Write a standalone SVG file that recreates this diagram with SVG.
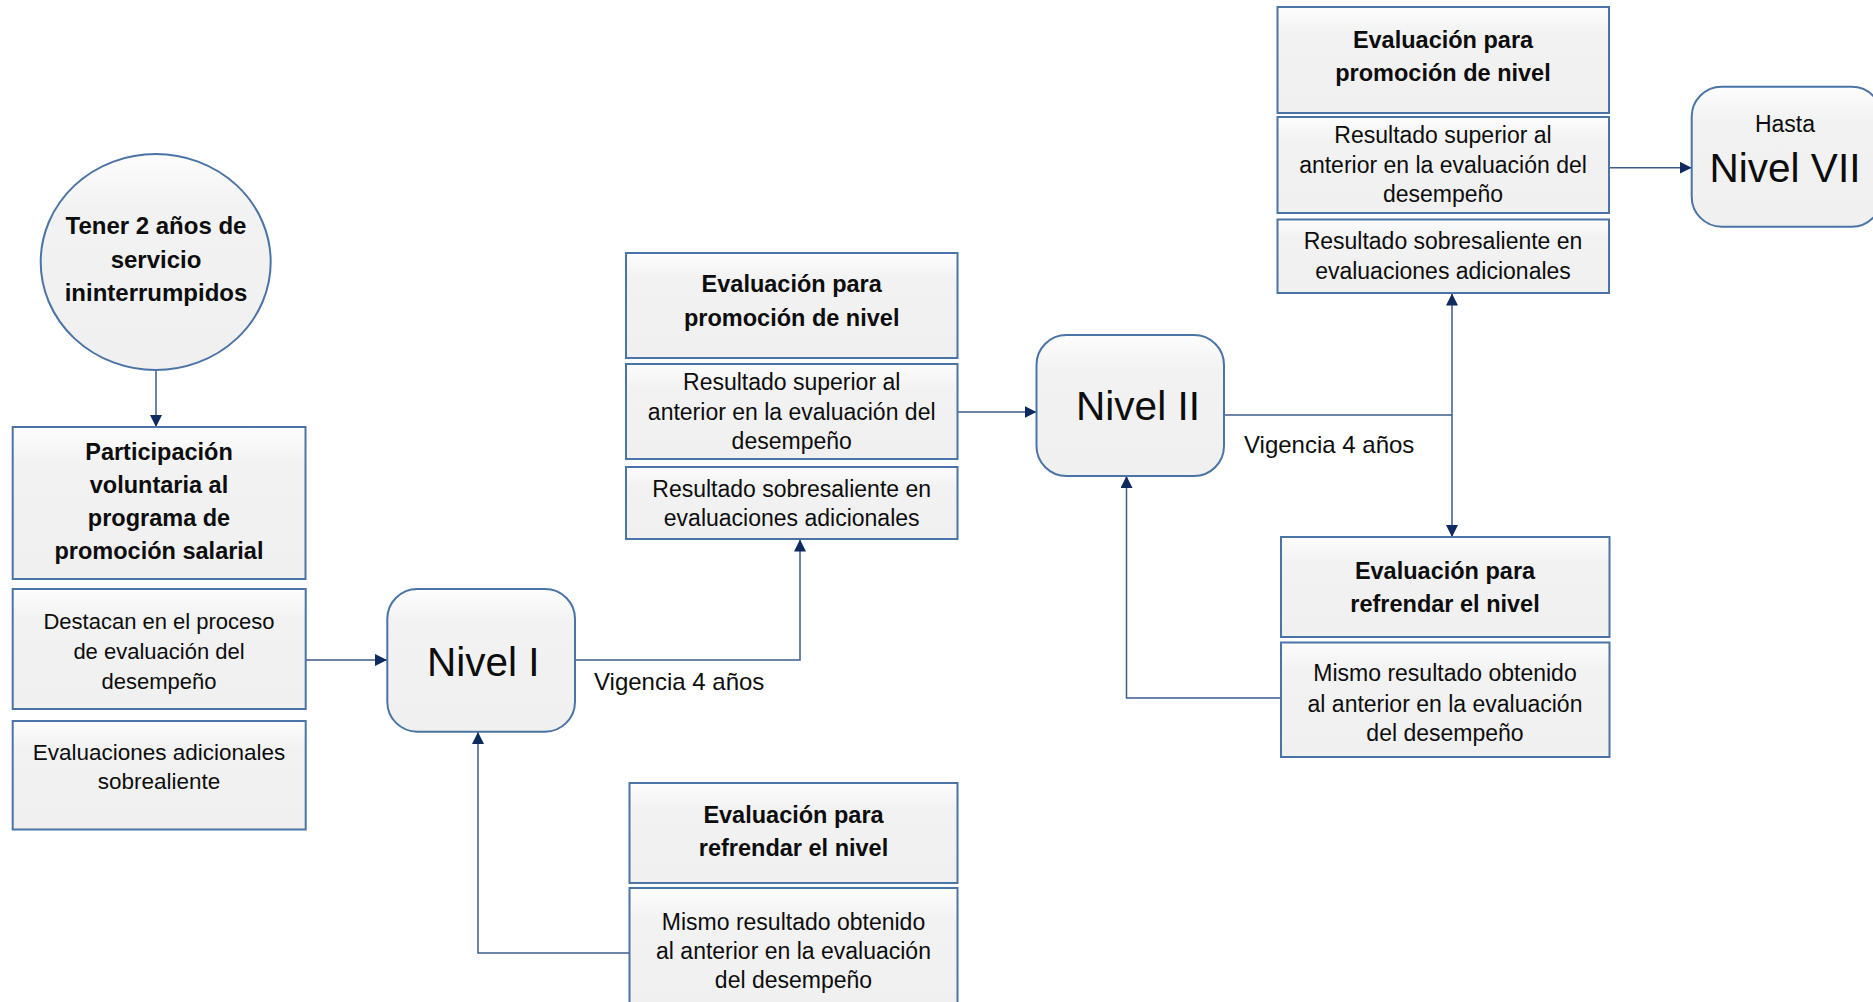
<svg xmlns="http://www.w3.org/2000/svg" width="1873" height="1002" viewBox="0 0 1873 1002">
<defs>
<linearGradient id="g" x1="0" y1="0" x2="0" y2="1">
<stop offset="0" stop-color="#fdfdfd"/>
<stop offset="0.25" stop-color="#f2f2f2"/>
<stop offset="1" stop-color="#f0f0f0"/>
</linearGradient>
<marker id="ah" markerUnits="userSpaceOnUse" markerWidth="12" markerHeight="12" viewBox="0 0 12 12" refX="12" refY="6" orient="auto">
<path d="M0,0L12,6L0,12z" fill="#0f2a5e"/>
</marker>
<style>
.box{fill:url(#g);stroke:#4a74a6;stroke-width:2}
.t{font-family:"Liberation Sans",Arial,sans-serif;fill:#0d0d0d;text-anchor:middle}
.b{font-weight:bold}
.h{font-size:23.5px}
.r{font-size:23px}
.big{font-size:40.5px}
.c{fill:none;stroke:#3e5b8a;stroke-width:1.5}
.ar{marker-end:url(#ah)}
</style>
</defs>
<rect width="1873" height="1002" fill="#ffffff"/>

<g id="connectors">
<path class="c ar" d="M156,370 V427"/>
<path class="c ar" d="M306,660 H387"/>
<path class="c ar" d="M575,660 H800 V539.5"/>
<path class="c ar" d="M630,953 H478 V732"/>
<path class="c ar" d="M957.5,412 H1036.5"/>
<path class="c" d="M1224,415 H1452"/>
<path class="c ar" d="M1452,415 V293.5"/>
<path class="c ar" d="M1452,415 V537"/>
<path class="c ar" d="M1281,698 H1126.5 V476"/>
<path class="c ar" d="M1609,167.7 H1691.7"/>
</g>

<g id="requisito">
<ellipse class="box" cx="155.7" cy="262" rx="115" ry="108"/>
<text class="t b" font-size="24" x="156" y="234.3">Tener 2 años de</text>
<text class="t b" font-size="24" x="156" y="267.7">servicio</text>
<text class="t b" font-size="24" x="156" y="301">ininterrumpidos</text>
</g>

<g id="participacion">
<rect class="box" x="12.7" y="427" width="292.8" height="152"/>
<text class="t b" font-size="23.5" x="159" y="460">Participación</text>
<text class="t b" font-size="23.5" x="159" y="493">voluntaria al</text>
<text class="t b" font-size="23.5" x="159" y="526">programa de</text>
<text class="t b" font-size="23.5" x="159" y="559">promoción salarial</text>
</g>

<g id="destacan">
<rect class="box" x="12.7" y="589" width="293" height="120"/>
<text class="t" font-size="22" x="159" y="629.3">Destacan en el proceso</text>
<text class="t" font-size="22" x="159" y="659.3">de evaluación del</text>
<text class="t" font-size="22" x="159" y="689.3">desempeño</text>
</g>

<g id="evaluaciones-adicionales">
<rect class="box" x="12.7" y="721" width="293" height="108.5"/>
<text class="t" font-size="22.5" x="159" y="760">Evaluaciones adicionales</text>
<text class="t" font-size="22.5" x="159" y="789.3">sobrealiente</text>
</g>

<g id="nivel-1">
<rect class="box" x="387.3" y="589" width="187.7" height="142.7" rx="30" ry="30"/>
<text class="t big" x="483.3" y="675.7">Nivel I</text>
</g>

<g id="vigencia-1">
<text class="t" font-size="24" x="594" y="690" style="text-anchor:start">Vigencia 4 años</text>
</g>

<g id="promocion-1">
<rect class="box" x="626" y="253" width="331.5" height="105"/>
<text class="t b h" x="791.7" y="292">Evaluación para</text>
<text class="t b h" x="791.7" y="326">promoción de nivel</text>
</g>

<g id="superior-1">
<rect class="box" x="626" y="364" width="331.5" height="95"/>
<text class="t r" x="791.7" y="390">Resultado superior al</text>
<text class="t r" x="791.7" y="419.5">anterior en la evaluación del</text>
<text class="t r" x="791.7" y="449">desempeño</text>
</g>

<g id="sobresaliente-1">
<rect class="box" x="626" y="467" width="331.5" height="72"/>
<text class="t r" x="791.7" y="496.5">Resultado sobresaliente en</text>
<text class="t r" x="791.7" y="526">evaluaciones adicionales</text>
</g>

<g id="refrendar-1">
<rect class="box" x="629.5" y="783" width="328" height="100"/>
<text class="t b h" x="793.5" y="823.3">Evaluación para</text>
<text class="t b h" x="793.5" y="856">refrendar el nivel</text>
</g>

<g id="mismo-1">
<rect class="box" x="629.5" y="888" width="328" height="130"/>
<text class="t r" x="793.5" y="930">Mismo resultado obtenido</text>
<text class="t r" x="793.5" y="959.3">al anterior en la evaluación</text>
<text class="t r" x="793.5" y="988.3">del desempeño</text>
</g>

<g id="nivel-2">
<rect class="box" x="1036.5" y="335" width="187.5" height="141" rx="30" ry="30"/>
<text class="t big" x="1138" y="420">Nivel II</text>
</g>

<g id="vigencia-2">
<text class="t" font-size="24" x="1244" y="452.7" style="text-anchor:start">Vigencia 4 años</text>
</g>

<g id="promocion-2">
<rect class="box" x="1277.5" y="7" width="331.5" height="106"/>
<text class="t b h" x="1443" y="47.7">Evaluación para</text>
<text class="t b h" x="1443" y="81">promoción de nivel</text>
</g>

<g id="superior-2">
<rect class="box" x="1277.5" y="117" width="331.5" height="96"/>
<text class="t r" x="1443" y="143">Resultado superior al</text>
<text class="t r" x="1443" y="172.5">anterior en la evaluación del</text>
<text class="t r" x="1443" y="202">desempeño</text>
</g>

<g id="sobresaliente-2">
<rect class="box" x="1277.5" y="219.5" width="331.5" height="73.5"/>
<text class="t r" x="1443" y="248.5">Resultado sobresaliente en</text>
<text class="t r" x="1443" y="278.5">evaluaciones adicionales</text>
</g>

<g id="refrendar-2">
<rect class="box" x="1281" y="537" width="328.5" height="100"/>
<text class="t b h" x="1445" y="579.3">Evaluación para</text>
<text class="t b h" x="1445" y="611.7">refrendar el nivel</text>
</g>

<g id="mismo-2">
<rect class="box" x="1281" y="642.5" width="328.5" height="114.5"/>
<text class="t r" x="1445" y="681">Mismo resultado obtenido</text>
<text class="t r" x="1445" y="711.7">al anterior en la evaluación</text>
<text class="t r" x="1445" y="740.7">del desempeño</text>
</g>

<g id="nivel-7">
<rect class="box" x="1691.7" y="86.7" width="190" height="140" rx="30" ry="30"/>
<text class="t" font-size="23" x="1785" y="132">Hasta</text>
<text class="t big" x="1785" y="182.3">Nivel VII</text>
</g>
</svg>
